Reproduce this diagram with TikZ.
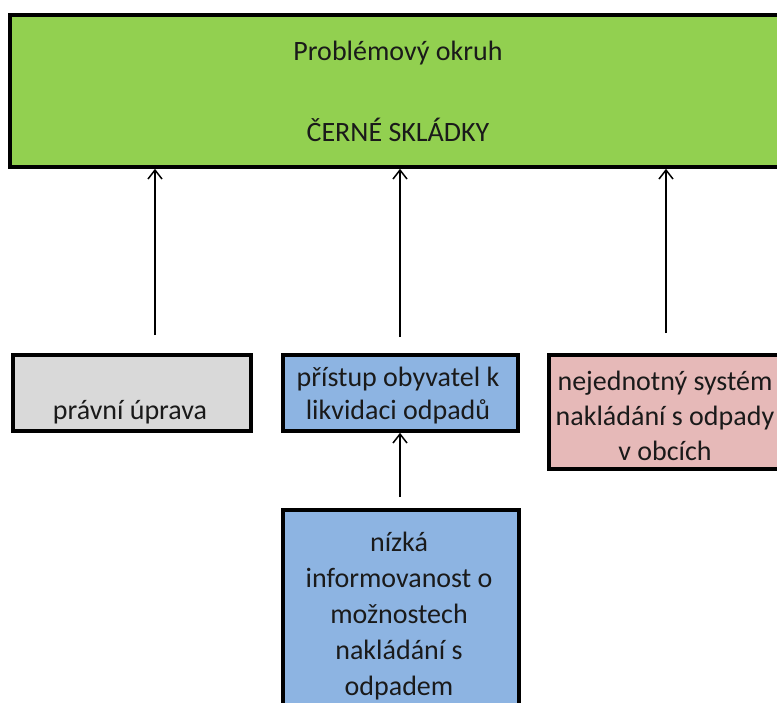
\documentclass[tikz,border=0pt]{standalone}
\usepackage{fontspec}
\setmainfont{Carlito}
\usetikzlibrary{arrows.meta}
\definecolor{cgreen}{HTML}{92D050}
\definecolor{cgray}{HTML}{D9D9D9}
\definecolor{cblue}{HTML}{8DB4E2}
\definecolor{cpink}{HTML}{E6B9B8}
\definecolor{ctext}{HTML}{1A1A1A}
\tikzset{
  boxstyle/.style={draw=black, line width=3.8pt, inner sep=0pt, anchor=north west},
  txt/.style={text=ctext, font=\fontsize{28}{35}\selectfont, align=center, inner sep=0pt},
  arr/.style={draw=black, line width=1.5pt, -{Straight Barb[length=9pt,width=14pt,line width=1.5pt]}}
}
\begin{document}
\begin{tikzpicture}[x=1pt,y=1pt]
\useasboundingbox (0,-702) rectangle (777,0);
\fill[white] (0,-702) rectangle (777,0);
% boxes
\node[boxstyle, fill=cgreen, minimum width=782pt, minimum height=152pt] (top) at (8,-13) {};
\node[boxstyle, fill=cgray, minimum width=238pt, minimum height=76pt] (b1) at (11,-353) {};
\node[boxstyle, fill=cblue, minimum width=235pt, minimum height=76pt] (b2) at (281,-353) {};
\node[boxstyle, fill=cpink, minimum width=240pt, minimum height=114pt] (b3) at (547,-353) {};
\node[boxstyle, fill=cblue, minimum width=236pt, minimum height=220pt] (b4) at (281,-508) {};
% texts
\node[txt] (t0a) at (398,-53) {Problémový okruh};
\node[txt] (t0b) at (398,-130) {ČERNÉ SKLÁDKY};
\node[txt] (t1) at (130,-412) {právní úprava};
\node[txt, font=\fontsize{28}{33}\selectfont] (t2) at (398,-396) {přístup obyvatel k\\likvidaci odpadů};
\node[txt] (t3) at (665,-416) {nejednotný systém\\nakládání s odpady\\v obcích};
\node[txt, font=\fontsize{28}{36}\selectfont] (t4) at (399,-616) {nízká\\informovanost o\\možnostech\\nakládání s\\odpadem};
% connectors
\coordinate (s1) at (155,-335);
\coordinate (s2) at (400,-337);
\coordinate (s3) at (666,-333);
\coordinate (s4) at (400,-497);
\draw[arr] (s1) -- (s1 |- top.south);
\draw[arr] (s2) -- (s2 |- top.south);
\draw[arr] (s3) -- (s3 |- top.south);
\draw[arr] (s4) -- (s4 |- b2.south);
\end{tikzpicture}
\end{document}
